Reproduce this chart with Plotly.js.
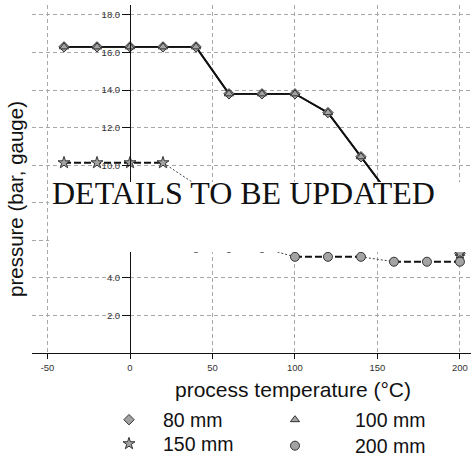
<!DOCTYPE html>
<html><head><meta charset="utf-8">
<script src="https://cdn.plot.ly/plotly-3.0.1.min.js"></script>
<style>html,body{margin:0;padding:0;background:#fff}</style>
</head><body><div id="chart" style="width:471px;height:459px"></div>
<script>
// ---- data ----
const seriesNames = ['80 mm', '100 mm', '150 mm', '200 mm'];
const t80 = [-40, -20, 0, 20, 40, 60, 80, 100, 120, 140, 160, 180, 200];
const p80 = [16.3, 16.3, 16.3, 16.3, 16.3, 13.8, 13.8, 13.8, 12.8, 10.45, 8.1, 6.7, 5.3];
const t100 = [-40, -20, 0, 20, 40, 60, 80, 100, 120, 140, 160, 180, 200];
const p100 = [16.3, 16.3, 16.3, 16.3, 16.3, 13.8, 13.8, 13.8, 12.8, 10.45, 8.1, 6.7, 5.3];
const t150 = [-40, -20, 0, 20, 60, 80, 200];
const p150 = [10.13, 10.13, 10.13, 10.13, 7.8, 6.7, 5.31];
const t200 = [40, 60, 80, 100, 120, 140, 160, 180, 200];
const p200 = [5.6, 5.6, 5.6, 5.12, 5.12, 5.12, 4.86, 4.86, 4.86];
const xTickVals = [-50, 0, 50, 100, 150, 200];
const xTickText = ['-50', '0', '50', '100', '150', '200'];
const yTickVals = [2, 4, 6, 8, 10, 12, 14, 16, 18];
const yTickText = ['2.0', '4.0', '', '', '10.0', '12.0', '14.0', '16.0', '18.0']; // 6.0 and 8.0 sit under the note box
const xTitle = 'process temperature (°C)';
const yTitle = 'pressure (bar, gauge)';
const noteText = 'DETAILS TO BE UPDATED';

// line segments per series: [startIndex, endIndex, style]
const seg80 = [[0, 12, 'solid']];
const seg100 = [[0, 12, 'solid']];
const seg150 = [[0, 3, 'dash'], [3, 5, 'dot']];
const seg200 = [[0, 2, 'dash'], [2, 3, 'dot'], [3, 5, 'dash'], [5, 6, 'dot'], [6, 8, 'dash']];

const SANS = '"Liberation Sans", Arial, sans-serif';
const dashMap = {solid: 'solid', dash: '7px,3px', dot: '2px,2px'};
const widthMap = {solid: 1.8, dash: 2, dot: 1};

function lineTraces(xs, ys, segs) {
  return segs.map(function (s) {
    return {
      x: xs.slice(s[0], s[1] + 1), y: ys.slice(s[0], s[1] + 1),
      type: 'scatter', mode: 'lines', showlegend: false, hoverinfo: 'skip',
      line: {color: s[2] === 'dot' ? '#444' : '#111', width: widthMap[s[2]], dash: dashMap[s[2]]}
    };
  });
}
function markerTrace(xs, ys, name, symbol, size, legendId) {
  return {
    x: xs, y: ys, name: name, type: 'scatter', mode: 'markers', legend: legendId,
    marker: {symbol: symbol, size: size, color: '#a3a3a3', line: {color: '#333', width: 1}}
  };
}

const traces = []
  .concat(lineTraces(t80, p80, seg80))
  .concat(lineTraces(t100, p100, seg100))
  .concat(lineTraces(t150, p150, seg150))
  .concat(lineTraces(t200, p200, seg200))
  .concat([
    markerTrace(t80, p80, seriesNames[0], 'diamond', 8, 'legend'),
    markerTrace(t100, p100, seriesNames[1], 'triangle-up', 8, 'legend2'),
    markerTrace(t150, p150, seriesNames[2], 'star', 9, 'legend3'),
    markerTrace(t200, p200, seriesNames[3], 'circle', 9, 'legend4')
  ]);

function px2paperX(px) { return (px - 32) / 439; }
function px2paperY(py) { return (353 - py) / 348; }
// symbolPx: where the legend symbol centre sits; gap: distance from symbol centre to text start
function legendAt(symbolPx, py, gap) {
  const itemwidth = 2 * gap - 10;
  const centre = (itemwidth + 10) / 2;
  return {x: px2paperX(symbolPx - centre), y: px2paperY(py), xanchor: 'left', yanchor: 'middle',
          bgcolor: 'rgba(0,0,0,0)', borderwidth: 0, itemwidth: itemwidth,
          font: {family: SANS, size: 19.5, color: '#111'}};
}

const layout = {
  width: 471, height: 459,
  margin: {l: 32, r: 0, t: 5, b: 106, pad: 0, autoexpand: false},
  paper_bgcolor: '#fff', plot_bgcolor: '#fff',
  showlegend: true,
  legend: legendAt(129, 420, 34),
  legend2: legendAt(295, 420, 60),
  legend3: legendAt(129, 444, 34),
  legend4: legendAt(295, 446, 60),
  xaxis: {
    range: [-59.4, 206.7], tickvals: xTickVals, ticktext: xTickText, ticks: 'outside', ticklen: 5, tickcolor: '#111',
    showline: true, linecolor: '#111', linewidth: 1.3, zeroline: false,
    showgrid: true, gridcolor: '#a8a8a8', gridwidth: 1, griddash: '4px,3px',
    tickfont: {family: SANS, size: 9.5, color: '#333'}
  },
  yaxis: {
    range: [0, 18.53], tickvals: yTickVals, ticktext: yTickText, ticks: 'outside', ticklen: 8, tickcolor: '#111',
    anchor: 'free', position: (130 - 32) / 439,
    showline: true, linecolor: '#111', linewidth: 1, zeroline: false,
    showgrid: true, gridcolor: '#a8a8a8', gridwidth: 1, griddash: '4px,3px',
    tickfont: {family: SANS, size: 9.5, color: '#333'}
  },
  shapes: [{
    type: 'rect', layer: 'above', xref: 'paper', yref: 'y',
    x0: px2paperX(49), x1: 1, y0: 5.38, y1: 9.1,
    fillcolor: '#fff', line: {width: 0}
  }],
  annotations: [
    {text: noteText, xref: 'paper', yref: 'y', x: px2paperX(243.5), y: 8.52,
     xanchor: 'center', yanchor: 'middle', showarrow: false,
     font: {family: '"Liberation Serif", "Times New Roman", serif', size: 32, color: '#111'}},
    {text: xTitle, xref: 'paper', yref: 'paper', x: px2paperX(292.5), y: px2paperY(389),
     xanchor: 'center', yanchor: 'middle', showarrow: false,
     font: {family: SANS, size: 21, color: '#111'}},
    {text: yTitle, xref: 'paper', yref: 'paper', x: px2paperX(15), y: px2paperY(199),
     xanchor: 'center', yanchor: 'middle', showarrow: false, textangle: -90,
     font: {family: SANS, size: 20.5, color: '#111'}}
  ]
};

Plotly.newPlot('chart', traces, layout, {displayModeBar: false, staticPlot: true});
</script>
</body></html>
